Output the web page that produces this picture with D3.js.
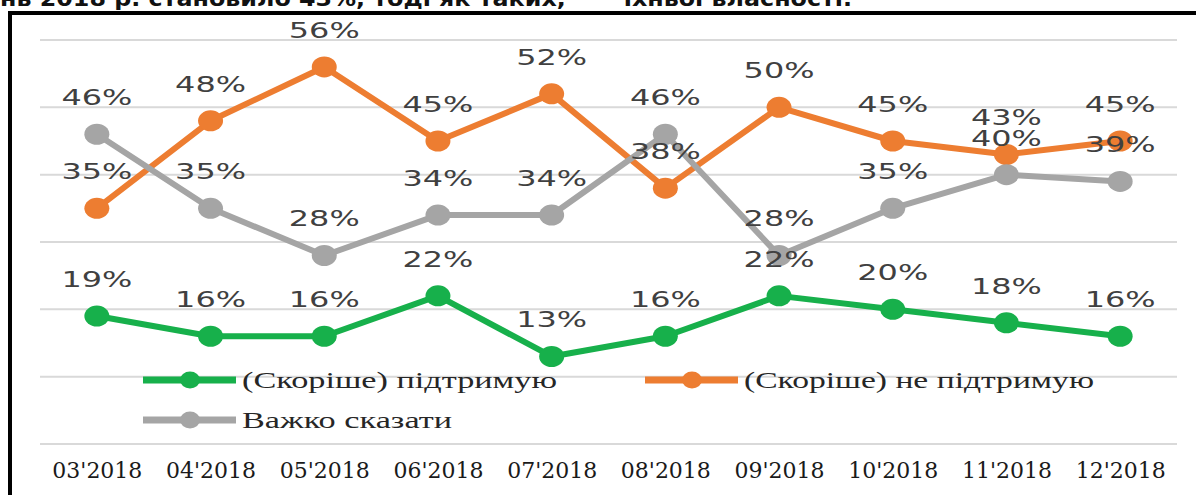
<!DOCTYPE html>
<html><head><meta charset="utf-8">
<script src="https://cdn.jsdelivr.net/npm/d3@7/dist/d3.min.js"></script>
<style>html,body{margin:0;padding:0;background:#fff;overflow:hidden}</style>
</head><body>
<svg id="c" width="1196" height="495"></svg>
<script>
const months = ["03'2018","04'2018","05'2018","06'2018","07'2018","08'2018","09'2018","10'2018","11'2018","12'2018"];
const support = [19,16,16,22,13,16,22,20,18,16];
const notSupport = [35,48,56,45,52,38,50,45,43,45];
const hardToSay = [46,35,28,34,34,46,28,35,40,39];
const seriesNames = ["(Скоріше) підтримую","(Скоріше) не підтримую","Важко сказати"];
const yTicks = [0,10,20,30,40,50,60];
const headerText = "нь 2018 р. становило 43%, тоді як таких,\u00a0\u00a0\u00a0\u00a0\u00a0\u00a0 їхньої власності.";

const svg = d3.select("#c");
svg.append("rect").attr("width",1196).attr("height",495).attr("fill","#fff");

// header (cut off)
svg.append("text").attr("x",0).attr("y",6)
  .attr("font-family","DejaVu Sans").attr("font-weight","bold").attr("font-size",21)
  .attr("textLength",852).attr("lengthAdjust","spacingAndGlyphs")
  .attr("fill","#111").text(headerText);

// frame
svg.append("rect").attr("x",10).attr("y",13).attr("width",1210).attr("height",520)
  .attr("fill","none").attr("stroke","#000").attr("stroke-width",4);

const x = d3.scalePoint().domain(months).range([40,1177]).padding(0.5);
const y = d3.scaleLinear().domain([0,60]).range([444,40]);

// gridlines
svg.append("g").selectAll("line").data(yTicks).join("line")
  .attr("x1",40).attr("x2",1177)
  .attr("y1",d=>y(d)).attr("y2",d=>y(d))
  .attr("stroke","#d9d9d9").attr("stroke-width",2);

// x axis labels
const xAxis = d3.axisBottom(x).tickSize(0).tickPadding(0);
const ax = svg.append("g").attr("transform","translate(0,461)").call(xAxis);
ax.select(".domain").remove();
ax.selectAll("text").attr("font-family","DejaVu Serif").attr("font-size",22)
  .attr("fill","#1a1a1a").attr("dy","0.75em");

const series = [
  {name:seriesNames[1], vals:notSupport, color:"#ED7D31"},
  {name:seriesNames[2], vals:hardToSay, color:"#A5A5A5"},
  {name:seriesNames[0], vals:support, color:"#17B04B"}
];

const line = d3.line().x((d,i)=>x(months[i])).y(d=>y(d));
series.forEach(s=>{
  const g = svg.append("g");
  g.append("path").attr("d",line(s.vals)).attr("fill","none")
    .attr("stroke",s.color).attr("stroke-width",6).attr("stroke-linejoin","round");
  g.selectAll("ellipse").data(s.vals).join("ellipse")
    .attr("cx",(d,i)=>x(months[i])).attr("cy",d=>y(d))
    .attr("rx",12.5).attr("ry",10.5).attr("fill",s.color);
});

// data labels
series.forEach(s=>{
  svg.append("g").selectAll("g").data(s.vals).join("g")
    .attr("transform",(d,i)=>`translate(${x(months[i])},${y(d)-29}) scale(1.45,1)`)
    .append("text").attr("text-anchor","middle")
    .attr("font-family","DejaVu Sans").attr("font-size",22).attr("fill","#404040")
    .text(d=>d+"%");
});

// legend
const legendItems = [
  {name:seriesNames[0], color:"#17B04B", lx:143, ly:380, tw:315},
  {name:seriesNames[1], color:"#ED7D31", lx:645, ly:380, tw:350},
  {name:seriesNames[2], color:"#A5A5A5", lx:143, ly:420, tw:210}
];
const lg = svg.append("g").selectAll("g").data(legendItems).join("g");
lg.append("line").attr("x1",d=>d.lx).attr("x2",d=>d.lx+93).attr("y1",d=>d.ly).attr("y2",d=>d.ly)
  .attr("stroke",d=>d.color).attr("stroke-width",7);
lg.append("ellipse").attr("cx",d=>d.lx+47).attr("cy",d=>d.ly).attr("rx",10).attr("ry",8.5).attr("fill",d=>d.color);
lg.append("text").attr("x",d=>d.lx+99).attr("y",d=>d.ly+8)
  .attr("font-family","Liberation Serif").attr("font-size",23).attr("fill","#262626")
  .attr("textLength",d=>d.tw).attr("lengthAdjust","spacingAndGlyphs")
  .text(d=>d.name);
</script>
</body></html>
